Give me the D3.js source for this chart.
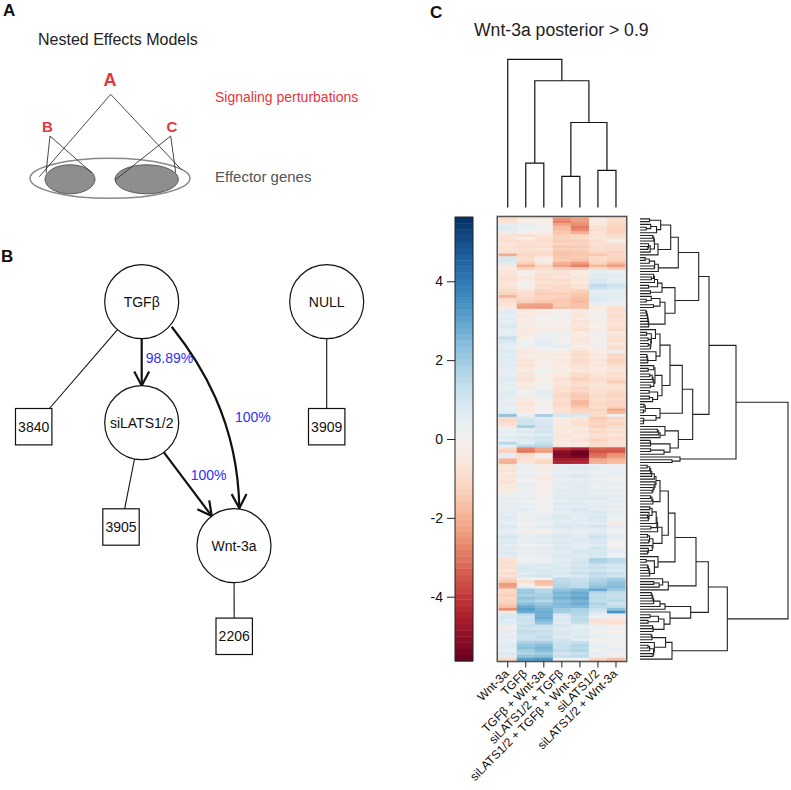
<!DOCTYPE html>
<html>
<head>
<meta charset="utf-8">
<script src="https://cdn.jsdelivr.net/npm/d3@7"></script>
<style>
  body { margin: 0; background: #fff; }
  svg text { font-family: "Liberation Sans", Arial, Helvetica, sans-serif; }
</style>
</head>
<body>
<svg id="fig" width="791" height="790"></svg>
<script>
// ---------- data ----------
const conditions = ["Wnt-3a", "TGFβ", "TGFβ + Wnt-3a", "siLATS1/2 + TGFβ",
  "siLATS1/2 + TGFβ + Wnt-3a", "siLATS1/2", "siLATS1/2 + Wnt-3a"];

// column dendrogram: [height, left, right], leaves are column indexes
const colMerge = [147.7, 0, [126.3, [44.3, 1, 2], [84.7, [31, 3, 4], [37, 5, 6]]]];

const legendTicks = [-4, -2, 0, 2, 4];
const valueRange = [-5.63, 5.63];

// one row per gene, columns in the order of `conditions`
const expr = [
  [-1.0,-0.6,-0.5,-2.6,-2.3,-0.3,-0.9],
  [-0.8,-0.3,-0.2,-2.8,-2.4,-0.5,-1.0],
  [0.5,0.4,-0.1,-2.2,-2.6,-0.6,-1.1],
  [0.7,0.3,0.1,-1.8,-2.9,-0.8,-1.2],
  [0.6,0.2,0.0,-1.7,-2.7,-0.9,-1.3],
  [0.4,-0.2,-0.3,-1.5,-2.0,-0.7,-1.2],
  [-0.8,-0.9,-0.7,-1.3,-1.2,-0.8,-0.9],
  [-0.7,-0.2,-0.8,-1.2,-1.0,-0.6,-0.7],
  [-0.9,-0.8,-1.0,-1.4,-1.3,-0.9,-0.2],
  [-0.6,-0.9,-0.8,-1.1,-1.2,-0.8,-0.8],
  [-0.8,-1.0,-0.9,-1.5,-1.4,-1.0,-1.0],
  [-0.7,-0.8,-0.7,-1.3,-1.2,-0.9,-0.9],
  [-0.9,-0.9,-1.0,-1.6,-1.5,-1.1,-1.2],
  [-2.1,-1.1,-1.0,-1.6,-1.5,-1.5,-1.1],
  [0.8,-1.0,-0.5,-1.5,-1.4,-1.0,-1.2],
  [0.9,-0.9,0.0,-1.4,-1.6,-1.1,-1.3],
  [0.7,-1.3,-0.6,-2.0,-2.4,-1.2,-1.8],
  [-0.5,-2.0,-1.2,-2.2,-2.8,-1.8,-2.3],
  [-0.4,-1.2,-0.9,-1.3,-1.4,-1.0,-1.3],
  [-0.7,-0.4,-0.6,-0.7,-0.4,0.5,0.3],
  [-0.6,-0.1,-0.9,-0.9,-0.3,0.7,0.5],
  [-0.8,-0.6,-0.8,-0.6,-0.6,0.6,0.6],
  [-0.9,-0.5,-1.0,-1.0,-0.7,0.8,0.4],
  [-0.6,0.1,-0.7,-0.8,-0.5,0.9,0.7],
  [-0.7,0.0,-1.0,-1.0,-0.8,1.4,1.1],
  [-0.8,-0.2,-0.9,-1.1,-0.8,1.2,0.9],
  [-1.0,-0.8,-1.2,-1.1,-1.3,0.5,0.4],
  [-1.2,-1.0,-1.4,-1.3,-1.5,0.6,0.6],
  [-1.9,-0.9,-1.2,-1.2,-1.6,0.7,0.5],
  [-1.0,-1.1,-1.3,-1.4,-1.7,0.8,0.6],
  [-0.9,-1.3,-1.5,-1.5,-1.8,0.5,0.4],
  [-0.8,-2.2,-2.3,-1.4,-1.6,0.3,0.2],
  [-0.5,-2.3,-2.4,-1.6,-1.6,-0.5,-0.8],
  [0.5,-0.5,-0.2,0.1,-0.6,-0.2,-0.9],
  [0.6,-0.4,-0.4,0.2,-0.5,0.1,-0.7],
  [0.4,-0.6,-0.1,-0.2,-0.7,-0.1,-1.0],
  [0.7,-0.3,0.0,0.3,-0.4,0.2,-0.8],
  [0.5,-0.5,-0.3,-0.1,-0.8,-0.3,-0.9],
  [0.6,-0.2,0.1,0.0,-0.6,0.0,-0.6],
  [0.8,-0.4,-0.2,-0.3,-0.7,-0.2,-0.9],
  [0.5,-0.6,-0.5,-0.4,-0.9,-0.4,-1.1],
  [0.4,-0.3,0.2,0.4,-0.3,0.3,-0.5],
  [0.6,-0.5,0.3,0.2,-0.5,0.1,-0.7],
  [1.3,-0.2,0.4,0.1,-0.6,0.0,-0.8],
  [0.9,0.1,0.5,-0.2,-0.7,-0.2,-1.0],
  [0.7,0.2,0.6,0.3,-0.4,0.2,-0.6],
  [0.5,0.3,0.4,0.5,-0.2,-0.3,-0.8],
  [0.6,-0.4,0.1,0.2,-0.5,-0.1,-0.9],
  [0.8,-0.6,-0.3,-0.3,-0.9,-0.5,0.3],
  [0.6,-0.5,-0.4,-0.5,-1.0,-0.6,-1.2],
  [0.7,-0.3,-0.2,-0.4,-0.8,-0.3,-1.0],
  [0.5,-0.7,-0.5,-0.6,-1.1,-0.7,-1.3],
  [0.6,-0.6,0.0,-0.5,-0.9,-0.5,-1.1],
  [0.7,-0.8,-0.3,-0.5,-0.8,-0.6,-0.9],
  [0.5,-0.5,0.0,-0.4,-0.7,-0.5,-0.7],
  [0.6,-0.3,0.2,-0.3,-0.6,-0.4,-0.6],
  [0.4,-0.7,-0.2,-0.6,-1.0,-0.7,-1.0],
  [0.6,-0.6,0.1,-0.5,-1.1,-0.8,-0.8],
  [0.7,-0.8,-0.3,-0.8,-1.3,-0.9,-1.1],
  [0.5,-0.5,-0.1,-0.6,-1.0,-0.8,-1.4],
  [0.6,-0.4,0.1,-0.7,-0.9,-0.6,-0.9],
  [0.4,-0.6,0.0,-0.9,-1.2,-0.7,-0.8],
  [0.6,0.1,0.5,-0.8,-1.0,-0.9,-1.0],
  [0.7,0.2,0.6,-1.0,-1.3,-0.8,-1.1],
  [0.5,-0.3,0.4,-1.1,-1.5,-1.0,-1.2],
  [0.6,-0.5,0.2,-0.9,-1.4,-0.9,-1.0],
  [0.5,-0.6,0.0,-1.0,-1.9,-1.0,-1.2],
  [0.6,-0.7,-0.2,-1.1,-1.8,-1.1,-1.1],
  [0.4,-0.5,0.1,-0.9,-1.5,-0.9,-1.3],
  [0.5,-0.6,-0.1,-0.8,-1.2,-1.2,-2.1],
  [0.7,-0.4,0.0,-0.9,-1.1,-1.0,-1.8],
  [2.3,0.2,1.9,0.9,0.8,-1.0,0.0],
  [-1.0,0.9,0.7,-0.3,-0.6,-1.4,-1.1],
  [-1.1,1.1,0.8,-0.5,-0.8,-1.2,-0.9],
  [-0.9,1.0,0.9,-0.4,-0.9,-1.1,-1.2],
  [-0.6,1.9,1.0,-0.6,-0.7,-1.3,-1.0],
  [0.3,0.6,0.8,-0.5,-0.4,-0.9,-0.7],
  [0.6,0.8,1.0,-0.4,-0.7,-1.1,-0.9],
  [0.2,0.5,0.7,-0.7,-0.5,-0.8,-0.6],
  [0.7,0.9,1.1,-0.6,-0.6,-1.0,-1.0],
  [0.4,0.7,0.9,-0.5,-0.8,-1.2,-0.8],
  [1.6,0.6,1.2,-0.3,-0.5,-0.9,-0.7],
  [0.5,1.5,1.6,-0.6,-0.6,-1.0,-0.9],
  [-1.0,-2.8,-2.2,-4.2,-4.5,-3.3,-3.4],
  [-1.3,-3.0,-2.4,-5.0,-5.5,-3.6,-3.6],
  [0.6,-1.0,-0.3,-5.2,-5.6,-3.2,-2.6],
  [0.5,-0.9,0.0,-5.1,-5.3,-3.0,-2.4],
  [-1.9,-0.8,-1.0,-4.6,-4.6,-2.1,-1.9],
  [-2.0,-0.7,-1.1,-4.5,-4.4,-2.0,-1.8],
  [-0.7,0.3,-0.3,0.5,0.6,0.4,0.3],
  [-0.6,0.4,-0.2,0.6,0.7,0.5,0.2],
  [-0.8,0.2,-0.4,0.4,0.5,0.3,0.4],
  [-0.5,0.3,-0.1,0.5,0.6,0.4,0.5],
  [-0.7,0.5,-0.3,0.7,0.8,0.6,0.3],
  [-0.6,0.1,-0.5,0.3,0.4,0.2,0.1],
  [-0.8,0.2,-0.2,0.5,0.5,0.5,0.4],
  [-0.5,0.6,0.0,0.6,0.7,0.4,0.6],
  [-0.6,0.3,-0.3,0.4,0.6,0.3,0.2],
  [-0.4,0.4,-0.1,0.6,0.5,0.6,0.5],
  [-0.3,0.2,-0.4,0.5,0.7,0.4,0.3],
  [0.4,0.3,0.1,0.7,0.6,0.5,0.5],
  [0.5,0.5,-0.1,0.6,0.8,0.7,0.4],
  [0.3,0.2,0.0,0.4,0.5,0.4,0.6],
  [0.6,0.4,0.2,0.8,0.7,0.5,0.3],
  [0.5,0.3,-0.2,0.6,0.6,0.6,0.5],
  [0.4,0.6,0.1,0.7,0.9,0.5,0.4],
  [0.6,0.2,0.3,0.5,0.7,0.8,0.6],
  [0.5,0.3,0.4,0.7,0.6,0.7,0.3],
  [0.7,0.2,0.6,0.8,0.5,0.9,0.4],
  [0.6,0.4,0.5,0.6,0.7,0.8,0.2],
  [0.5,0.1,0.3,0.7,0.6,0.6,-0.5],
  [0.8,0.3,0.6,0.9,0.8,1.0,0.5],
  [0.6,0.2,0.4,0.6,0.5,0.7,0.3],
  [0.4,-0.3,-0.2,0.5,0.4,0.6,0.2],
  [0.7,0.4,0.5,0.7,0.6,0.9,0.5],
  [0.9,0.5,0.7,0.8,0.7,1.1,0.6],
  [0.6,0.3,0.4,0.6,0.8,0.8,0.3],
  [0.8,0.4,0.6,0.9,0.7,0.9,0.1],
  [0.5,0.2,0.3,0.7,0.5,0.7,-0.1],
  [0.7,0.5,0.5,0.8,0.6,1.0,0.4],
  [0.6,0.3,0.4,0.6,0.9,0.8,0.5],
  [0.8,0.4,0.6,0.7,0.8,0.9,0.3],
  [0.5,0.2,0.5,0.8,0.7,0.8,0.4],
  [-0.8,0.1,0.3,0.6,0.8,1.8,1.5],
  [-0.9,0.3,0.4,0.7,1.0,1.7,1.4],
  [-0.7,0.7,0.8,0.6,0.9,1.1,0.9],
  [-0.9,0.9,0.7,0.8,1.1,1.3,1.1],
  [-0.6,0.8,0.9,0.7,0.9,1.0,0.8],
  [-1.0,0.6,0.8,0.9,1.2,1.4,1.2],
  [-0.7,0.8,1.0,0.6,0.8,1.2,1.0],
  [-1.2,0.3,0.2,1.4,1.2,1.6,1.9],
  [-1.5,-0.9,-1.8,1.5,1.3,1.8,2.2],
  [-2.4,-0.2,-1.6,1.6,1.4,2.0,2.3],
  [-2.2,0.5,-0.5,1.7,1.5,2.2,2.4],
  [-1.0,2.0,1.6,2.2,2.5,2.9,2.0],
  [-1.1,2.1,1.7,2.6,2.9,1.6,1.4],
  [-1.3,1.8,1.9,2.4,2.7,1.4,1.2],
  [-1.0,2.2,2.0,2.7,3.0,1.5,1.3],
  [-1.2,1.9,1.6,2.3,2.6,1.3,1.5],
  [-1.4,2.3,2.1,2.5,2.8,1.7,1.1],
  [-1.6,2.8,2.4,2.4,2.5,1.5,1.4],
  [-2.6,3.1,2.6,2.0,1.8,1.2,2.2],
  [-0.3,2.8,2.8,1.9,1.7,0.9,3.4],
  [0.8,1.3,2.7,0.9,1.6,0.4,0.3],
  [0.9,1.1,2.9,0.7,1.4,0.2,-0.3],
  [0.6,1.2,2.5,0.8,1.5,-0.9,-0.8],
  [0.7,1.0,2.2,0.6,1.2,-0.7,-0.9],
  [0.4,1.3,1.2,0.9,0.5,0.2,0.0],
  [-0.5,1.1,1.0,0.7,0.6,0.3,0.2],
  [0.5,1.4,1.3,0.8,0.7,0.1,-0.2],
  [0.3,1.2,1.1,0.9,0.5,0.2,0.1],
  [0.6,1.0,1.4,0.7,0.8,0.4,0.3],
  [0.4,1.3,1.2,1.0,0.6,0.0,0.1],
  [0.5,1.8,1.9,1.1,1.3,0.2,0.3],
  [0.7,2.1,2.3,1.3,1.6,0.4,0.1],
  [0.6,2.3,2.6,1.2,1.5,0.3,0.2],
  [0.5,1.9,2.4,1.4,1.7,0.2,0.4],
  [0.8,1.7,2.0,1.0,1.2,0.5,0.0],
  [0.6,2.2,2.3,1.3,1.4,0.3,0.2],
  [-1.0,3.1,3.3,0.1,0.1,-1.1,-1.6]
];

// upper levels of the row dendrogram;
// r = range of rows clustered below that merge, h = merge height
const rowMerge = {h: 148, c: [
  {h: 96, c: [
    {h: 69, c: [
      {h: 58.7, c: [
        {h: 38.3, c: [
          {h: 30.7, c: [{r: [0, 5], h: 20.7}, {r: [6, 13], h: 18}]},
          {r: [14, 19], h: 18.3}]},
        {h: 35, c: [{r: [20, 27], h: 22}, {r: [28, 39], h: 25}]}]},
      {h: 52.7, c: [
        {h: 42.3, c: [
          {h: 30, c: [{r: [40, 52], h: 20}, {r: [53, 66], h: 22}]},
          {r: [67, 74], h: 20}]},
        {h: 38.3, c: [{r: [75, 79], h: 25}, {r: [80, 85], h: 30}]}]}]},
    {r: [86, 88], h: 40}]},
  {h: 87.3, c: [
    {h: 68.3, c: [
      {h: 56, c: [
        {h: 35, c: [
          {h: 28.3, c: [{r: [89, 103], h: 20}, {r: [104, 121], h: 22}]},
          {r: [122, 129], h: 18}]},
        {r: [130, 134], h: 28.3}]},
      {h: 50.7, c: [{r: [135, 141], h: 25}, {r: [142, 149], h: 30}]}]},
    {r: [150, 159], h: 32}]}
]};

// panel B: nested effects model
const nemSignals = ["TGFβ", "siLATS1/2", "Wnt-3a", "NULL"];
const nemEdges = [
  {source: "TGFβ", target: "siLATS1/2", label: "98.89%"},
  {source: "TGFβ", target: "Wnt-3a", label: "100%", curved: true},
  {source: "siLATS1/2", target: "Wnt-3a", label: "100%"}
];
const nemGenes = [
  {signal: "TGFβ", count: 3840},
  {signal: "siLATS1/2", count: 3905},
  {signal: "Wnt-3a", count: 2206},
  {signal: "NULL", count: 3909}
];

// ---------- drawing ----------
const svg = d3.select("#fig");
const red = "#e5363c", blue = "#2f2ff5";

function panelLetter(t, x, y) {
  svg.append("text").attr("x", x).attr("y", y)
    .attr("font-size", 17).attr("font-weight", "bold").attr("fill", "#111").text(t);
}
panelLetter("A", 3, 16);
panelLetter("B", 1, 262);
panelLetter("C", 430, 18);

// ----- panel A (schematic) -----
const gA = svg.append("g");
gA.append("text").attr("x", 38).attr("y", 45).attr("font-size", 16).attr("fill", "#222")
  .text("Nested Effects Models");
gA.append("ellipse").attr("cx", 110).attr("cy", 178.3).attr("rx", 80).attr("ry", 20)
  .attr("fill", "#fff").attr("stroke", "#8a8a8a").attr("stroke-width", 1.5);
[[70, 25], [146.7, 31.7]].forEach(function(e) {
  gA.append("ellipse").attr("cx", e[0]).attr("cy", 179.3).attr("rx", e[1]).attr("ry", 14.5)
    .attr("fill", "#8e8e8e").attr("stroke", "#5a5a5a").attr("stroke-width", 1);
});
const schemeLines = [
  [110.7, 94.3, 39.3, 176.7], [110.7, 94.3, 181.7, 170],
  [50, 136, 46, 173], [50, 136, 92, 173],
  [170.7, 136, 115, 180], [170.7, 136, 175.7, 172.7]
];
gA.selectAll("line.scheme").data(schemeLines).enter().append("line")
  .attr("x1", d => d[0]).attr("y1", d => d[1]).attr("x2", d => d[2]).attr("y2", d => d[3])
  .attr("stroke", "#333").attr("stroke-width", 0.9);
gA.append("text").attr("x", 110).attr("y", 86).attr("text-anchor", "middle")
  .attr("font-size", 18).attr("font-weight", "bold").attr("fill", red).text("A");
gA.append("text").attr("x", 47.5).attr("y", 131.5).attr("text-anchor", "middle")
  .attr("font-size", 15).attr("font-weight", "bold").attr("fill", red).text("B");
gA.append("text").attr("x", 172).attr("y", 131.5).attr("text-anchor", "middle")
  .attr("font-size", 15).attr("font-weight", "bold").attr("fill", red).text("C");
gA.append("text").attr("x", 215).attr("y", 101.5).attr("font-size", 14).attr("fill", red)
  .text("Signaling perturbations");
gA.append("text").attr("x", 215).attr("y", 181.5).attr("font-size", 15).attr("fill", "#555")
  .text("Effector genes");

// ----- panel B (network) -----
const gB = svg.append("g");
const posB = {
  "TGFβ": [141.7, 301.7], "NULL": [326.7, 301.7],
  "siLATS1/2": [141.7, 422.7], "Wnt-3a": [234, 545.7],
  "gene:TGFβ": [33.7, 426.7], "gene:NULL": [326.7, 426.7],
  "gene:siLATS1/2": [121, 527], "gene:Wnt-3a": [234.2, 636.3]
};
const rNode = 37, boxHalf = 18.2;

function unit(a, b) {
  const dx = b[0] - a[0], dy = b[1] - a[1], l = Math.hypot(dx, dy);
  return [dx / l, dy / l];
}

// signal -> gene links
nemGenes.forEach(function(g) {
  const a = posB[g.signal], b = posB["gene:" + g.signal];
  const u = unit(a, b);
  const tb = boxHalf / Math.max(Math.abs(u[0]), Math.abs(u[1]));
  gB.append("line")
    .attr("x1", a[0] + u[0] * rNode).attr("y1", a[1] + u[1] * rNode)
    .attr("x2", b[0] - u[0] * tb).attr("y2", b[1] - u[1] * tb)
    .attr("stroke", "#111").attr("stroke-width", 1.1);
});

function arrowHead(tip, dir) {
  const len = 16, ang = Math.PI / 6.5;
  const back = Math.atan2(-dir[1], -dir[0]);
  const p1 = [tip[0] + len * Math.cos(back + ang), tip[1] + len * Math.sin(back + ang)];
  const p2 = [tip[0] + len * Math.cos(back - ang), tip[1] + len * Math.sin(back - ang)];
  gB.append("path").attr("d", "M" + p1 + "L" + tip + "L" + p2)
    .attr("fill", "none").attr("stroke", "#111").attr("stroke-width", 2.2)
    .attr("stroke-linejoin", "miter");
}

const edgeLabelPos = {"TGFβ>siLATS1/2": [145.7, 363.3], "TGFβ>Wnt-3a": [235, 421.7], "siLATS1/2>Wnt-3a": [190.7, 480]};
nemEdges.forEach(function(e) {
  const a = posB[e.source], b = posB[e.target];
  if (e.curved) {
    const p0 = [171.7, 326.7], c1 = [199, 361], c2 = [238, 420], p3 = [b[0] + 5.3, b[1] - rNode - 0.5];
    const p = d3.path();
    p.moveTo(p0[0], p0[1]);
    p.bezierCurveTo(c1[0], c1[1], c2[0], c2[1], p3[0], p3[1]);
    gB.append("path").attr("d", p.toString()).attr("fill", "none")
      .attr("stroke", "#111").attr("stroke-width", 2.2);
    arrowHead(p3, unit(c2, p3));
  } else {
    const u = unit(a, b);
    const s = [a[0] + u[0] * rNode, a[1] + u[1] * rNode];
    const t = [b[0] - u[0] * rNode, b[1] - u[1] * rNode];
    gB.append("line").attr("x1", s[0]).attr("y1", s[1]).attr("x2", t[0]).attr("y2", t[1])
      .attr("stroke", "#111").attr("stroke-width", 2.2);
    arrowHead(t, u);
  }
  const lp = edgeLabelPos[e.source + ">" + e.target];
  gB.append("text").attr("x", lp[0]).attr("y", lp[1]).attr("font-size", 14)
    .attr("fill", blue).text(e.label);
});

nemSignals.forEach(function(s) {
  const p = posB[s];
  gB.append("circle").attr("cx", p[0]).attr("cy", p[1]).attr("r", rNode)
    .attr("fill", "#fff").attr("stroke", "#111").attr("stroke-width", 1.2);
  gB.append("text").attr("x", p[0]).attr("y", p[1] + 5).attr("text-anchor", "middle")
    .attr("font-size", 14).attr("fill", "#111").text(s);
});
nemGenes.forEach(function(g) {
  const p = posB["gene:" + g.signal];
  gB.append("rect").attr("x", p[0] - boxHalf).attr("y", p[1] - boxHalf)
    .attr("width", 2 * boxHalf).attr("height", 2 * boxHalf)
    .attr("fill", "#fff").attr("stroke", "#111").attr("stroke-width", 1.2);
  gB.append("text").attr("x", p[0]).attr("y", p[1] + 5).attr("text-anchor", "middle")
    .attr("font-size", 14).attr("fill", "#111").text(g.count);
});

// ----- panel C (heatmap) -----
const gC = svg.append("g");
gC.append("text").attr("x", 474).attr("y", 36).attr("font-size", 17.6).attr("fill", "#222")
  .text("Wnt-3a posterior > 0.9");

const x = d3.scaleBand().domain(d3.range(conditions.length)).range([498.7, 625]);
const y = d3.scaleBand().domain(d3.range(expr.length)).range([217.5, 660.5]);
const colorOf = v => d3.interpolateRdBu((v - valueRange[0]) / (valueRange[1] - valueRange[0]));

const cells = [];
expr.forEach((row, i) => row.forEach((v, j) => cells.push({i: i, j: j, v: v})));
gC.append("g").selectAll("rect").data(cells).enter().append("rect")
  .attr("x", d => x(d.j)).attr("y", d => y(d.i))
  .attr("width", x.bandwidth() + 0.4).attr("height", y.bandwidth() + 0.5)
  .attr("fill", d => colorOf(d.v));
gC.append("rect").attr("x", 497.3).attr("y", 216.5).attr("width", 129.4).attr("height", 445)
  .attr("fill", "none").attr("stroke", "#555").attr("stroke-width", 1.6);

// column labels via bottom axis
const xAxis = gC.append("g").attr("transform", "translate(0,661.5)")
  .call(d3.axisBottom(x).tickSize(6).tickSizeOuter(0).tickFormat(j => conditions[j]));
xAxis.select(".domain").remove();
xAxis.selectAll(".tick line").attr("stroke", "#333").attr("stroke-width", 1.1);
xAxis.selectAll(".tick text")
  .attr("x", 0).attr("y", 0).attr("dy", 0)
  .attr("transform", "translate(2,13) rotate(-45)")
  .attr("text-anchor", "end").attr("font-size", 12)
  .attr("font-family", "Liberation Sans, Arial, sans-serif").attr("fill", "#111");

// colour key
const yL = d3.scaleLinear().domain(valueRange).range([661, 217]);
const nSteps = 72, stepV = (valueRange[1] - valueRange[0]) / nSteps;
gC.append("g").selectAll("rect").data(d3.range(nSteps)).enter().append("rect")
  .attr("x", 455).attr("width", 18)
  .attr("y", k => yL(valueRange[0] + (k + 1) * stepV))
  .attr("height", k => yL(valueRange[0] + k * stepV) - yL(valueRange[0] + (k + 1) * stepV) + 0.4)
  .attr("fill", k => colorOf(valueRange[0] + (k + 0.5) * stepV));
gC.append("rect").attr("x", 455).attr("y", 217).attr("width", 18).attr("height", 444)
  .attr("fill", "none").attr("stroke", "#222").attr("stroke-width", 1);
const keyAxis = gC.append("g").attr("transform", "translate(455,0)")
  .call(d3.axisLeft(yL).tickValues(legendTicks).tickSize(8).tickPadding(4).tickFormat(d => String(d)));
keyAxis.select(".domain").remove();
keyAxis.selectAll(".tick line").attr("stroke", "#222");
keyAxis.selectAll(".tick text").attr("font-size", 14)
  .attr("font-family", "Liberation Sans, Arial, sans-serif").attr("fill", "#111");

// column dendrogram
const yC = d3.scaleLinear().domain([0, 147.7]).range([207.5, 59.3]);
function colNode(m) {
  if (typeof m === "number") return {h: 0, x: x(m) + x.bandwidth() / 2};
  const kids = [colNode(m[1]), colNode(m[2])];
  return {h: m[0], children: kids, x: (kids[0].x + kids[1].x) / 2};
}
const colSegs = [];
(function walk(n) {
  if (!n.children) return;
  const a = n.children[0], b = n.children[1];
  colSegs.push("M" + a.x + "," + yC(a.h) + "V" + yC(n.h) + "H" + b.x + "V" + yC(b.h));
  n.children.forEach(walk);
})(colNode(colMerge));
gC.append("g").selectAll("path").data(colSegs).enter().append("path")
  .attr("d", d => d).attr("fill", "none").attr("stroke", "#111").attr("stroke-width", 1.2);

// row dendrogram: upper levels from rowMerge, fine structure inside each row range
// by contiguity-constrained average-linkage clustering of the expression rows
function rowDist(a, b) {
  let s = 0;
  for (let k = 0; k < a.length; k++) s += (a[k] - b[k]) * (a[k] - b[k]);
  return Math.sqrt(s);
}
function clusterRange(r0, r1, H) {
  let nodes = d3.range(r0, r1 + 1).map(i => ({h: 0, row: i, members: [i], raw: 0}));
  while (nodes.length > 1) {
    let best = 0, bd = Infinity;
    for (let k = 0; k < nodes.length - 1; k++) {
      let s = 0;
      nodes[k].members.forEach(p => nodes[k + 1].members.forEach(q => { s += rowDist(expr[p], expr[q]); }));
      const d = s / (nodes[k].members.length * nodes[k + 1].members.length);
      if (d < bd) { bd = d; best = k; }
    }
    const a = nodes[best], b = nodes[best + 1];
    nodes.splice(best, 2, {children: [a, b], members: a.members.concat(b.members),
      raw: Math.max(bd, a.raw + 0.05, b.raw + 0.05)});
  }
  const root = nodes[0];
  let maxRaw = 0;
  (function m(n) { if (!n.children) return; if (n !== root) maxRaw = Math.max(maxRaw, n.raw); n.children.forEach(m); })(root);
  (function s(n) {
    if (!n.children) return;
    n.h = n === root ? H : 2 + (n.raw / (maxRaw || 1)) * (0.8 * H - 2);
    n.children.forEach(s);
  })(root);
  return root;
}
function buildRows(spec) {
  if (spec.r) return clusterRange(spec.r[0], spec.r[1], spec.h);
  return {h: spec.h, children: spec.c.map(buildRows)};
}
const rowRoot = buildRows(rowMerge);
(function place(n) {
  if (!n.children) { n.y = y(n.row) + y.bandwidth() / 2; return; }
  n.children.forEach(place);
  n.y = (n.children[0].y + n.children[1].y) / 2;
})(rowRoot);

const xR = d3.scaleLinear().domain([0, 148]).range([640, 788]);
const rowSegs = [];
(function walk(n) {
  if (!n.children) return;
  const a = n.children[0], b = n.children[1];
  rowSegs.push("M" + xR(a.h) + "," + a.y + "H" + xR(n.h) + "V" + b.y + "H" + xR(b.h));
  n.children.forEach(walk);
})(rowRoot);
gC.append("g").selectAll("path").data(rowSegs).enter().append("path")
  .attr("d", d => d).attr("fill", "none").attr("stroke", "#222").attr("stroke-width", 1.1);
</script>
</body>
</html>
